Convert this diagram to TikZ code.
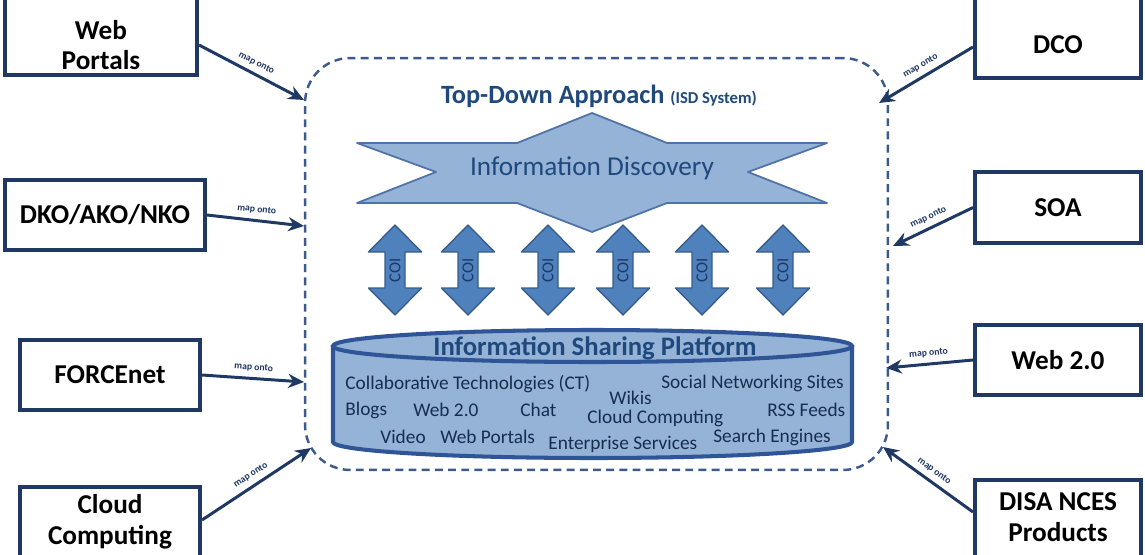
\documentclass[tikz,border=0pt]{standalone}
\usepackage{fontspec}
\setmainfont{Carlito}
\usetikzlibrary{arrows.meta}
\definecolor{navy}{RGB}{31,56,100}
\definecolor{framecol}{RGB}{60,90,140}
\definecolor{titlecol}{RGB}{31,73,125}
\definecolor{lightfill}{RGB}{149,179,215}
\definecolor{starline}{RGB}{79,115,168}
\definecolor{coifill}{RGB}{79,129,189}
\definecolor{coiline}{RGB}{56,93,138}
\definecolor{cylline}{RGB}{47,85,151}
\definecolor{innertext}{RGB}{23,45,80}
\begin{document}
\begin{tikzpicture}[x=0.02cm,y=-0.02cm,
    srcbox/.style={draw=navy,line width=2.3pt,fill=white,align=center,inner sep=0pt,
      font=\fontsize{15.5}{17.5}\selectfont\bfseries},
    boxtext/.style={align=center,inner sep=0pt,font=\fontsize{15.5}{17.5}\selectfont\bfseries},
    mapto/.style={navy,line width=1.7pt,-{Stealth[length=9pt,width=8pt]}},
    maplabel/.style={sloped,above,inner sep=3pt,text=navy,font=\fontsize{5.5}{6}\selectfont\bfseries},
    isdframe/.style={draw=framecol,line width=1.4pt,dash pattern=on 4.5pt off 3pt,rounded corners=0.9cm},
    coiarrow/.style={fill=coifill,draw=coiline,line width=0.8pt,line join=round},
    coitext/.style={text=navy,font=\fontsize{9.5}{10}\selectfont,inner sep=0pt},
    platform/.style={text=innertext,font=\fontsize{11}{12}\selectfont,inner sep=0pt,anchor=west}]
\useasboundingbox (0,0) rectangle (1145,554);

% The dashed frame of the ISD system
\node[isdframe,minimum width=11.66cm,minimum height=8.24cm] (isd) at (596.5,264) {};
\node[text=titlecol,font=\fontsize{15}{17}\selectfont\bfseries] (title) at (599,96)
  {Top-Down Approach {\fontsize{9.5}{10}\selectfont (ISD System)}};

% Information discovery star
\draw[fill=lightfill,draw=starline,line width=1pt,line join=round]
  (357,143) -- (517,143) -- (592,113) -- (667,143) -- (827,143) -- (748,172)
  -- (827,203) -- (667,203) -- (592,232) -- (517,203) -- (357,203) -- (436,172) -- cycle;
\node[text=titlecol,font=\fontsize{15.5}{17}\selectfont] (disc) at (592,168) {Information Discovery};

% COI double arrows
\foreach \cx [count=\i] in {395,468,548,623,702,783} {
  \draw[coiarrow] (\cx,225) -- (\cx+26.5,252) -- (\cx+10,252) -- (\cx+10,288)
    -- (\cx+26.5,288) -- (\cx,315) -- (\cx-26.5,288) -- (\cx-10,288)
    -- (\cx-10,252) -- (\cx-26.5,252) -- cycle;
  \node[coitext,rotate=90] (coi\i) at (\cx,270) {COI};
}

% Information sharing platform cylinder
\draw[fill=lightfill,draw=cylline,line width=2.3pt]
  (333,346) -- (333,442) arc[start angle=180,end angle=0,x radius=259.5,y radius=16]
  -- (852,346);
\draw[fill=lightfill,draw=cylline,line width=2.3pt] (592.5,346) ellipse [x radius=259.5,y radius=16];
\node[text=titlecol,font=\fontsize{15.2}{17}\selectfont\bfseries] (isp) at (595,348) {Information Sharing Platform};
\node[platform] (ct) at (345,384) {Collaborative Technologies (CT)};
\node[platform] (wikis) at (609,398) {Wikis};
\node[platform] (sns) at (661,383) {Social Networking Sites};
\node[platform] (blogs) at (345,410) {Blogs};
\node[platform] (webin) at (413,410) {Web 2.0};
\node[platform] (chat) at (520,410) {Chat};
\node[platform] (cloudin) at (587,418) {Cloud Computing};
\node[platform] (rss) at (767,410) {RSS Feeds};
\node[platform] (video) at (380,437) {Video};
\node[platform] (portals) at (440,437) {Web Portals};
\node[platform] (ent) at (548,444) {Enterprise Services};
\node[platform] (search) at (713,437) {Search Engines};

% Source boxes
\node[srcbox,minimum width=3.84cm,minimum height=1.7cm] (wp) at (101,32.5) {};
\node[boxtext] (wptext) at (101,45) {Web\\Portals};
\node[srcbox,minimum width=4cm,minimum height=1.4cm] (dko) at (105,215) {DKO/AKO/NKO};
\node[srcbox,minimum width=3.6cm,minimum height=1.4cm] (forcenet) at (110,375) {FORCEnet};
\node[srcbox,minimum width=3.6cm,minimum height=1.76cm] (cloud) at (110,531) {};
\node[boxtext] (cloudtext) at (110,522) {Cloud\\Computing};
\node[srcbox,minimum width=3.32cm,minimum height=1.76cm] (dco) at (1058,34) {};
\node[boxtext] (dcotext) at (1058,45) {DCO};
\node[srcbox,minimum width=3.32cm,minimum height=1.42cm] (soa) at (1058,207.5) {SOA};
\node[srcbox,minimum width=3.32cm,minimum height=1.4cm] (webtwo) at (1058,360) {Web 2.0};
\node[srcbox,minimum width=3.32cm,minimum height=1.9cm] (disa) at (1058,527.5) {};
\node[boxtext] (disatext) at (1058,517) {DISA NCES\\Products};

% Arrow tips on the frame
\coordinate (twp) at (304,100);
\coordinate (tdko) at (304,226);
\coordinate (tforce) at (304,382);
\coordinate (tcloud) at (311,448);
\coordinate (tdco) at (879,103);
\coordinate (tsoa) at (893,246);
\coordinate (twebtwo) at (886,368);
\coordinate (tdisa) at (883,447);

% map onto connectors
\draw[mapto] ([yshift=-0.25cm]wp.east) -- node[maplabel] {map onto} (twp);
\draw[mapto] (dko.east) -- node[maplabel] {map onto} (tdko);
\draw[mapto] (forcenet.east) -- node[maplabel] {map onto} (tforce);
\draw[mapto] ([yshift=0.22cm]cloud.east) -- node[maplabel] {map onto} (tcloud);
\draw[mapto] ([yshift=-0.26cm]dco.west) -- node[maplabel] {map onto} (tdco);
\draw[mapto] (soa.west) -- node[maplabel] {map onto} (tsoa);
\draw[mapto] (webtwo.west) -- node[maplabel] {map onto} (twebtwo);
\draw[mapto] ([yshift=0.31cm]disa.west) -- node[maplabel] {map onto} (tdisa);
\end{tikzpicture}
\end{document}
